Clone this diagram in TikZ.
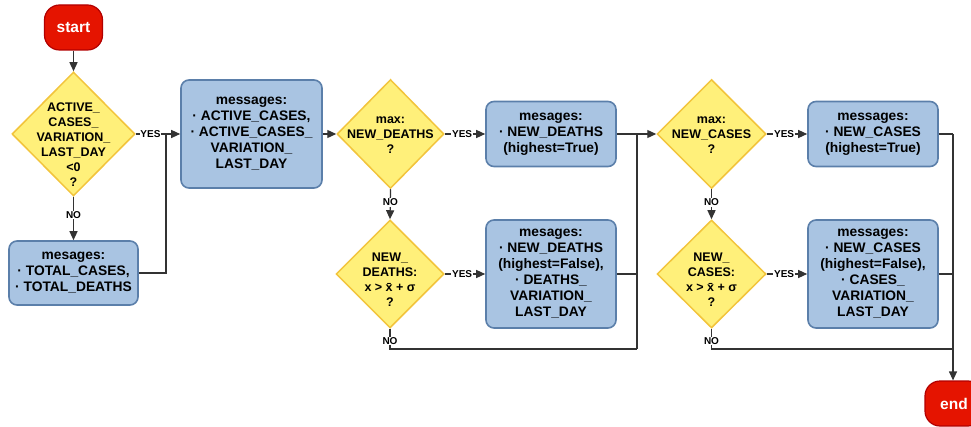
\documentclass[tikz,border=0pt]{standalone}
\usepackage{fontspec}
\setmainfont{Liberation Sans}
\usetikzlibrary{shapes.geometric,arrows.meta}
\definecolor{boxfill}{HTML}{A9C4E2}
\definecolor{boxline}{HTML}{5B7FAA}
\definecolor{decfill}{HTML}{FFF07A}
\definecolor{decline}{HTML}{F2C43C}
\definecolor{termfill}{HTML}{E51400}
\definecolor{termline}{HTML}{B20000}
\definecolor{wirecol}{HTML}{333333}
\begin{document}
\begin{tikzpicture}[x=1pt,y=-1pt,
  txt/.style={font=\fontsize{13.8}{16}\selectfont\bfseries, align=center},
  msgbox/.style={txt, draw=boxline, fill=boxfill, line width=1.6pt, rounded corners=8pt, inner sep=0pt},
  dec/.style={diamond, draw=decline, fill=decfill, line width=1.5pt, inner sep=0pt, aspect=1},
  dtext/.style={font=\fontsize{12.5}{15}\selectfont\bfseries, align=center, inner sep=0pt},
  term/.style={draw=termline, fill=termfill, line width=1.2pt, rounded corners=15pt, text=white,
    font=\fontsize{15.5}{18}\selectfont\bfseries, minimum width=58, minimum height=45, inner sep=0pt},
  wire/.style={draw=wirecol, line width=1.25pt},
  arr/.style={wire, -{Triangle[length=9pt,width=8pt]}},
  lbl/.style={fill=white, inner sep=0.8pt, font=\fontsize{10}{12}\selectfont\bfseries}
]
\useasboundingbox (0,0) rectangle (971,427);

% terminals
\node[term] (start) at (73.5,27.5) {start};
\node[term] (end) at (954,403.5) {end};

% column 1
\node[dec, minimum width=123, minimum height=124] (d1) at (73.5,134) {};
\node[dtext] (d1t) at (73.5,145) {ACTIVE\_\\CASES\_\\VARIATION\_\\LAST\_DAY\\<0\\?};
\node[msgbox, minimum width=129, minimum height=64] (b1) at (73.5,273)
  {mesages:\\· TOTAL\_CASES,\\· TOTAL\_DEATHS};
\node[msgbox, minimum width=141, minimum height=108] (bA) at (251.5,134)
  {messages:\\· ACTIVE\_CASES,\\· ACTIVE\_CASES\_\\VARIATION\_\\LAST\_DAY};

% column deaths
\node[dec, minimum width=107, minimum height=109] (d2) at (390.5,134) {};
\node[dtext] (d2t) at (390.5,135) {max:\\NEW\_DEATHS\\?};
\node[dec, minimum width=108, minimum height=108] (d3) at (390,274) {};
\node[dtext] (d3t) at (390,280) {NEW\_\\DEATHS:\\x > \=x + σ\\?};
\node[msgbox, minimum width=130, minimum height=65] (b3) at (551,134)
  {mesages:\\· NEW\_DEATHS\\(highest=True)};
\node[msgbox, minimum width=130, minimum height=108] (b4) at (551,274)
  {mesages:\\· NEW\_DEATHS\\(highest=False),\\· DEATHS\_\\VARIATION\_\\LAST\_DAY};

% column cases
\node[dec, minimum width=109, minimum height=109] (d4) at (711.5,134) {};
\node[dtext] (d4t) at (711.5,135) {max:\\NEW\_CASES\\?};
\node[dec, minimum width=109, minimum height=108] (d5) at (711.5,274) {};
\node[dtext] (d5t) at (711.5,280) {NEW\_\\CASES:\\x > \=x + σ\\?};
\node[msgbox, minimum width=130, minimum height=65] (b5) at (873,134)
  {messages:\\· NEW\_CASES\\(highest=True)};
\node[msgbox, minimum width=130, minimum height=108] (b6) at (873,274)
  {messages:\\· NEW\_CASES\\(highest=False),\\· CASES\_\\VARIATION\_\\LAST\_DAY};

% junction coordinates
\coordinate (jA) at (166,134);
\coordinate (jBt) at (637,134);
\coordinate (jBm) at (637,274);
\coordinate (jBb) at (637,349);
\coordinate (nB) at (390,349);
\coordinate (jCt) at (953,134);
\coordinate (jCm) at (953,274);
\coordinate (jCb) at (953,349);
\coordinate (nC) at (711.5,349);

% connectors
\draw[arr] (start) -- (d1);
\draw[arr] (d1.south) -- node[lbl, pos=0.42] {NO} (b1.north);
\draw[arr] (d1.east) -- node[lbl, pos=0.33] {YES} (bA.west);
\draw[wire] (b1.east) -| (jA);
\draw[arr] (bA.east) -- (d2.west);

\draw[arr] (d2.east) -- node[lbl, pos=0.43] {YES} (b3.west);
\draw[arr] (d2.south) -- node[lbl, pos=0.44] {NO} (d3.north);
\draw[arr] (d3.east) -- node[lbl, pos=0.43] {YES} (b4.west);
\draw[wire] (d3.south) -- node[lbl, pos=0.6] {NO} (nB) -- (jBb);
\draw[wire] (b3.east) -- (jBt);
\draw[wire] (b4.east) -- (jBm);
\draw[wire] (jBt) -- (jBb);
\draw[arr] (jBt) -- (d4.west);

\draw[arr] (d4.east) -- node[lbl, pos=0.43] {YES} (b5.west);
\draw[arr] (d4.south) -- node[lbl, pos=0.44] {NO} (d5.north);
\draw[arr] (d5.east) -- node[lbl, pos=0.43] {YES} (b6.west);
\draw[wire] (d5.south) -- node[lbl, pos=0.6] {NO} (nC) -- (jCb);
\draw[wire] (b5.east) -- (jCt);
\draw[wire] (b6.east) -- (jCm);
\draw[arr] (jCt) -- (end.north -| jCt);
\end{tikzpicture}
\end{document}
